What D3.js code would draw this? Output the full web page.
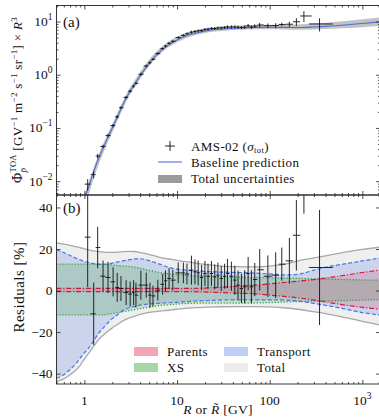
<!DOCTYPE html>
<html><head><meta charset="utf-8">
<script src="https://cdn.jsdelivr.net/npm/d3@7"></script>
<style>
html,body{margin:0;padding:0;background:#fff;}
svg{display:block;font-family:"Liberation Serif","DejaVu Serif",serif;}
</style></head><body>
<svg id="chart" width="379" height="418"></svg>
<script>
// Rigidity grid [GV] for the baseline prediction and the uncertainty bands
const gridR = [0.5,0.6,0.7,0.8,0.9,1.0,1.1,1.25,1.4,1.6,1.8,2.0,2.3,2.6,3.0,3.5,4.0,4.7,5.5,6.5,8,10,13,17,22,30,45,70,100,150,200,300,400,700,1000,1550];
// Baseline prediction, Phi x R^3
const baseline = [0.0001,0.0003,0.0007,0.0015,0.0028,0.0047,0.0075,0.0145,0.025,0.043,0.068,0.10,0.17,0.27,0.44,0.67,0.95,1.42,2.0,2.7,3.6,4.5,5.5,6.2,6.8,7.2,7.55,7.75,7.8,7.75,7.7,7.9,8.1,8.7,9.2,9.9];
// Relative uncertainty envelopes [%]
const totalUp = [23,22.4,21.8,21.2,20.6,20.1,19.6,19.1,18.8,18.5,18.4,18.4,18.5,18.7,18.9,18.8,18.3,17.7,16.9,16.0,15.3,14.5,13.8,13.0,12.4,11.8,11.5,11.4,11.8,12.8,14.3,15.7,16.7,18.7,19.8,20.9];
const totalLo = [-43.8,-42.5,-40.5,-38.5,-36,-33,-30.5,-27,-24,-21.5,-19.5,-18,-16.2,-14.6,-13.3,-12.3,-11.5,-10.8,-10.3,-9.9,-9.5,-9.0,-8.5,-8.2,-8.0,-7.8,-7.7,-7.7,-7.9,-8.4,-9.0,-10.2,-11.1,-13.3,-14.8,-16.6];
const transUp = [19.5,18.3,16.9,15.7,14.8,14.0,13.5,13.0,12.7,12.6,12.8,13.2,13.8,14.3,14.8,15.2,15.3,14.8,13.8,12.7,11.3,10.3,9.8,9.4,9.1,8.9,8.7,8.4,8.0,7.5,7.8,9.8,11.2,13.1,14.3,15.6];
const transLo = [-42.2,-40.5,-38,-35.5,-32.5,-30,-28,-24.5,-21,-18,-15.5,-13.5,-11.5,-9.6,-8.4,-7.6,-7.0,-6.6,-6.3,-6.1,-5.9,-5.6,-5.3,-5.0,-4.8,-4.6,-4.5,-4.5,-4.5,-4.6,-5.0,-6.2,-7.1,-9.2,-10.6,-11.8];
const xsUp = [12.7,12.7,12.7,12.7,12.7,12.7,12.7,12.7,12.7,12.7,12.5,12.3,12.0,11.8,11.6,11.3,10.8,10.0,9.3,8.7,8.1,7.7,7.4,7.1,6.9,6.7,6.5,6.3,6.2,6.0,5.9,5.6,5.5,5.3,5.1,5.0];
const xsLo = [-11.7,-11.7,-11.7,-11.7,-11.7,-11.7,-11.7,-11.7,-11.7,-11.7,-11.4,-11.1,-10.6,-10.2,-9.7,-9.2,-8.7,-8.2,-7.7,-7.2,-6.9,-6.5,-6.2,-6.1,-6.1,-6.1,-6.1,-6.0,-5.8,-5.5,-5.3,-5.1,-5.0,-4.8,-4.6,-4.5];
const parUp = [1.0,1.0,1.0,1.0,1.0,1.0,1.0,1.0,1.0,1.0,1.0,1.0,1.0,1.0,1.0,1.0,1.0,1.0,1.0,1.0,1.0,1.0,1.0,1.1,1.3,1.6,2.1,2.6,3.2,4.0,4.5,5.3,6.0,7.6,8.7,9.9];
const parLo = [-0.5,-0.5,-0.5,-0.5,-0.5,-0.5,-0.5,-0.5,-0.5,-0.5,-0.5,-0.5,-0.5,-0.5,-0.5,-0.5,-0.5,-0.5,-0.5,-0.5,-0.5,-0.5,-0.5,-0.6,-0.8,-1.0,-1.3,-1.6,-2.2,-2.9,-3.5,-4.6,-5.5,-7.2,-8.1,-9.0];

// AMS-02 antiproton data: rigidity [GV], flux x R^3, residual [%], total error [%]
const dataR = [1.085,1.26,1.39,1.59,1.80,2.04,2.26,2.48,2.82,3.12,3.40,3.60,4.07,4.65,5.10,5.50,6.20,7.00,7.50,8.20,9.00,10.3,11.7,12.8,14.3,15.6,16.9,18.4,20.0,21.6,23.5,25.5,27.6,30.0,32.6,35.0,38.6,42.0,45.5,49.5,53.7,58.5,63.5,69.0,78.0,95.5,116,135,163,194,234,345];
const dataFlux = [0.0088,0.0133,0.0296,0.045,0.072,0.111,0.162,0.24,0.376,0.49,0.61,0.69,1.02,1.46,1.68,1.95,2.5,3.09,3.45,3.9,4.25,5.0,5.5,5.9,6.3,6.5,6.7,6.75,7.1,7.2,7.4,7.4,7.6,7.6,7.75,7.9,7.9,7.9,7.8,7.7,7.85,8.35,7.9,8.2,8.6,8.35,8.4,8.8,8.9,9.9,12.7,9.0];
const dataRes = [25.7,-11.2,20.7,6.9,6.3,4.2,1.5,1.0,-1.0,-1.7,-1.0,-2.2,2.6,2.6,-2.2,-2.6,0.2,3.0,4.7,5.8,5.0,8.5,8.5,8.0,9.8,9.0,8.5,6.3,8.2,6.9,8.2,6.6,7.4,5.8,6.9,8.2,6.9,5.0,2.6,1.0,1.8,8.2,1.8,5.3,10.0,6.9,7.4,12.7,14.3,26.6,60,11.1];
const dataErr = [24,15,10,7.5,7.5,7,7,6,6,6,6,6,7,6,6,5,5,5,5,5,5,5,5,5,7,6,6,6,6,6,6,6,6,6,6,7,7,7,7,7,8,8,8,8,10,10,11,8,11,17,23,27.7];
const lastBin = [265, 480];

// Tick values
const xMajor = [1,10,100,1000];
const xMinor = [0.5,0.6,0.7,0.8,0.9,2,3,4,5,6,7,8,9,20,30,40,50,60,70,80,90,200,300,400,500,600,700,800,900,1500];
const yAMajor = [0.01,0.1,1,10];
const yAMinor = [0.006,0.007,0.008,0.009,0.02,0.03,0.04,0.05,0.06,0.07,0.08,0.09,0.2,0.3,0.4,0.5,0.6,0.7,0.8,0.9,2,3,4,5,6,7,8,9,20];
const yBMajor = [-40,-20,0,20,40];
const xTickText = ["1","10","100",null];

const svg = d3.select("#chart");
const L = 56.5, Rt = 380, TopA = 5.5, BotA = 195, BotB = 384;
const x = d3.scaleLog().domain([0.5,1550]).range([L,Rt]);
const yA = d3.scaleLog().domain([0.0055,20]).range([BotA,TopA]);
const yB = d3.scaleLinear().domain([-45,46]).range([BotB,BotA]);

const defs = svg.append("defs");
defs.append("clipPath").attr("id","clipA").append("rect").attr("x",L).attr("y",TopA).attr("width",Rt-L).attr("height",BotA-TopA);
defs.append("clipPath").attr("id","clipB").append("rect").attr("x",L).attr("y",BotA).attr("width",Rt-L).attr("height",BotB-BotA);

// Lays out a row of text runs (super/subscripts, italics) and anchors the whole row
function rich(parent, runs, o) {
  const g = parent.append("g");
  let cx = 0, pend = 0;
  runs.forEach(r => {
    const t = g.append("text").attr("x", cx).attr("y", r.dy || 0)
      .attr("font-size", r.size || o.size).attr("fill", "#111").text(r.t);
    if (o.ls) t.attr("letter-spacing", o.ls);
    if (r.it) t.attr("font-style", "italic");
    const w = t.node().getComputedTextLength();
    if (r.stack) pend = Math.max(pend, w);
    else { cx += Math.max(w, pend); pend = 0; }
  });
  const shift = o.anchor === "middle" ? -cx / 2 : o.anchor === "end" ? -cx : 0;
  g.attr("transform", `translate(${o.x},${o.y}) rotate(${o.rot || 0}) translate(${shift},0)`);
  return g;
}
const NB = "\u00a0";

// ---------- panel (a): flux ----------
const gA = svg.append("g").attr("clip-path","url(#clipA)");
const rows = gridR.map((r,i) => ({r, b: baseline[i], tu: totalUp[i], tl: totalLo[i], su: transUp[i], sl: transLo[i], xu: xsUp[i], xl: xsLo[i], pu: parUp[i], pl: parLo[i]}));

gA.append("path").datum(rows)
  .attr("d", d3.area().curve(d3.curveMonotoneX).x(d => x(d.r))
    .y0(d => yA(d.b * (1 + d.tl/100))).y1(d => yA(d.b * (1 + d.tu/100))))
  .attr("fill", "#9a9a9a").attr("fill-opacity", 0.6);
gA.append("path").datum(rows)
  .attr("d", d3.line().curve(d3.curveMonotoneX).x(d => x(d.r)).y(d => yA(d.b)))
  .attr("fill","none").attr("stroke","#4a6fdc").attr("stroke-width",1.1);

// bin edges between neighbouring data points
const pts = dataR.map((r,i) => ({r, f: dataFlux[i], res: dataRes[i], e: dataErr[i]}));
pts.forEach((p,i) => {
  if (i === pts.length - 1) { p.lo = lastBin[0]; p.hi = lastBin[1]; return; }
  p.hi = Math.sqrt(p.r * pts[i+1].r);
  p.lo = i === 0 ? p.r * p.r / p.hi : Math.sqrt(p.r * pts[i-1].r);
});
const crossA = gA.append("g").attr("stroke","#111").attr("stroke-width",0.9);
pts.forEach(p => {
  crossA.append("line").attr("x1", x(p.lo)).attr("x2", x(p.hi)).attr("y1", yA(p.f)).attr("y2", yA(p.f));
  crossA.append("line").attr("x1", x(p.r)).attr("x2", x(p.r))
    .attr("y1", yA(p.f * (1 - p.e/100))).attr("y2", yA(p.f * (1 + p.e/100)));
});

// ---------- panel (b): residuals ----------
const gB = svg.append("g").attr("clip-path","url(#clipB)");
const bands = [
  {up:"tu", lo:"tl", fill:"#808080", op:0.13, stroke:"#a8a8a8", dash:null, sw:1.3, leg:0.15},
  {up:"su", lo:"sl", fill:"#4169e1", op:0.2, stroke:"#4a74e8", dash:"4,2.2", sw:1.2, leg:0.33},
  {up:"xu", lo:"xl", fill:"#2ca02c", op:0.2, stroke:"#2ca02c", dash:"1.2,1.8", sw:1.3, leg:0.42},
  {up:"pu", lo:"pl", fill:"#dc143c", op:0.16, stroke:"#dc143c", dash:"5,1.8,1.2,1.8", sw:1.2, leg:0.38}
];
bands.forEach(b => {
  gB.append("path").datum(rows)
    .attr("d", d3.area().curve(d3.curveMonotoneX).x(d => x(d.r)).y0(d => yB(d[b.lo])).y1(d => yB(d[b.up])))
    .attr("fill", b.fill).attr("fill-opacity", b.op);
});
bands.forEach(b => {
  [b.up, b.lo].forEach(k => {
    gB.append("path").datum(rows)
      .attr("d", d3.line().curve(d3.curveMonotoneX).x(d => x(d.r)).y(d => yB(d[k])))
      .attr("fill","none").attr("stroke", b.stroke).attr("stroke-width", b.sw)
      .attr("stroke-dasharray", b.dash);
  });
});
const crossB = gB.append("g").attr("stroke","#111").attr("stroke-width",0.9);
pts.forEach(p => {
  crossB.append("line").attr("x1", x(p.lo)).attr("x2", x(p.hi)).attr("y1", yB(p.res)).attr("y2", yB(p.res));
  crossB.append("line").attr("x1", x(p.r)).attr("x2", x(p.r))
    .attr("y1", yB(p.res - p.e)).attr("y2", yB(p.res + p.e));
});

// ---------- axes, frames, ticks ----------
function ticks(axis, tx, ty) {
  svg.append("g").attr("transform", `translate(${tx},${ty})`).call(axis)
    .call(g => g.select(".domain").remove())
    .call(g => g.selectAll("line").attr("stroke","#222").attr("stroke-width",0.8));
}
const noTxt = a => a.tickFormat("").tickPadding(0);
[[TopA, d3.axisTop], [BotA, d3.axisBottom]].forEach(([yy, ax]) => {
  ticks(noTxt(ax(x).tickValues(xMajor).tickSize(-4)), 0, yy);
  ticks(noTxt(ax(x).tickValues(xMinor).tickSize(-2)), 0, yy);
});
[[BotA, d3.axisTop], [BotB, d3.axisBottom]].forEach(([yy, ax]) => {
  ticks(noTxt(ax(x).tickValues(xMajor).tickSize(-4)), 0, yy);
  ticks(noTxt(ax(x).tickValues(xMinor).tickSize(-2)), 0, yy);
});
[[L, d3.axisLeft], [Rt, d3.axisRight]].forEach(([xx, ax]) => {
  ticks(noTxt(ax(yA).tickValues(yAMajor).tickSize(-4)), xx, 0);
  ticks(noTxt(ax(yA).tickValues(yAMinor).tickSize(-2)), xx, 0);
  ticks(noTxt(ax(yB).tickValues(yBMajor).tickSize(-4)), xx, 0);
});
svg.append("rect").attr("x",L).attr("y",TopA).attr("width",Rt-L).attr("height",BotA-TopA)
  .attr("fill","none").attr("stroke","#222").attr("stroke-width",0.9);
svg.append("rect").attr("x",L).attr("y",BotA).attr("width",Rt-L).attr("height",BotB-BotA)
  .attr("fill","none").attr("stroke","#222").attr("stroke-width",0.9);

// tick labels
const FS = 13.5;
yAMajor.forEach(v => {
  const e = Math.round(Math.log10(v));
  rich(svg, [{t:"10"}, {t: e < 0 ? "\u2212" + (-e) : String(e), size: 9.5, dy: -6}], {x: 52.5, y: yA(v) + 4.5, anchor:"end", size: FS});
});
yBMajor.forEach(v => {
  rich(svg, [{t: v < 0 ? "\u2212" + (-v) : String(v)}], {x: 52.5, y: yB(v) + 4.5, anchor:"end", size: FS});
});
xMajor.forEach((v,i) => {
  const runs = xTickText[i] ? [{t: xTickText[i]}] : [{t:"10"}, {t:"3", size: 9.5, dy: -6}];
  rich(svg, runs, {x: x(v), y: 405, anchor:"middle", size: FS});
});

// axis titles
rich(svg, [{t:"R", it:true}, {t:NB+"or"+NB}, {t:"R\u0303", it:true}, {t:NB+"[GV]"}], {x: 218, y: 414, anchor:"middle", size: 13.5, ls: 0.3});
rich(svg, [{t:"Residuals"+NB+"[%]"}], {x: 24, y: 287, anchor:"middle", size: 15, ls: 0.5, rot: -90});
const sup = (t) => ({t, size: 9, dy: -5});
rich(svg, [
  {t:"\u03a6", size: 14}, {t:"TOA", size: 8.5, dy: -6, stack: true}, {t:"p\u0304", size: 9, it:true, dy: 4},
  {t:NB+"[GV"}, sup("\u22121"), {t:NB+"m"}, sup("\u22122"), {t:NB+"s"}, sup("\u22121"),
  {t:NB+"sr"}, sup("\u22121"), {t:"]"+NB+"\u00d7"+NB}, {t:"R", it:true}, sup("3")
], {x: 22, y: 100, anchor:"middle", size: 13, ls: 0.3, rot: -90});

// panel tags
rich(svg, [{t:"(a)"}], {x: 63, y: 27, size: 15});
rich(svg, [{t:"(b)"}], {x: 63, y: 213, size: 15});

// ---------- legends ----------
const lg = svg.append("g");
lg.append("line").attr("x1",165).attr("x2",175).attr("y1",146).attr("y2",146).attr("stroke","#111").attr("stroke-width",0.9);
lg.append("line").attr("x1",170).attr("x2",170).attr("y1",141).attr("y2",151).attr("stroke","#111").attr("stroke-width",0.9);
rich(lg, [{t:"AMS-02"+NB+"("}, {t:"\u03c3", it:true}, {t:"tot", size: 8.5, dy: 2.5}, {t:")"}], {x: 191, y: 150.5, size: 13, ls: 0.4});
lg.append("line").attr("x1",158).attr("x2",182).attr("y1",162).attr("y2",162).attr("stroke","#4a6fdc").attr("stroke-width",1.1);
rich(lg, [{t:"Baseline"+NB+"prediction"}], {x: 191, y: 166.5, size: 13, ls: 0.4});
lg.append("rect").attr("x",158).attr("y",175).attr("width",24).attr("height",8).attr("fill","#8a8a8a").attr("fill-opacity",0.85);
rich(lg, [{t:"Total"+NB+"uncertainties"}], {x: 191, y: 182.5, size: 13, ls: 0.4});

const legB = [
  {name:"Parents", b: bands[3], x: 134, y: 347},
  {name:"XS", b: bands[2], x: 134, y: 363},
  {name:"Transport", b: bands[1], x: 224, y: 347},
  {name:"Total", b: bands[0], x: 224, y: 363}
];
legB.forEach(d => {
  svg.append("rect").attr("x", d.x).attr("y", d.y).attr("width", 24).attr("height", 9)
    .attr("fill", d.b.fill).attr("fill-opacity", d.b.leg);
  rich(svg, [{t: d.name}], {x: d.x + 33, y: d.y + 9, size: 13, ls: 0.4});
});
</script>
</body></html>
